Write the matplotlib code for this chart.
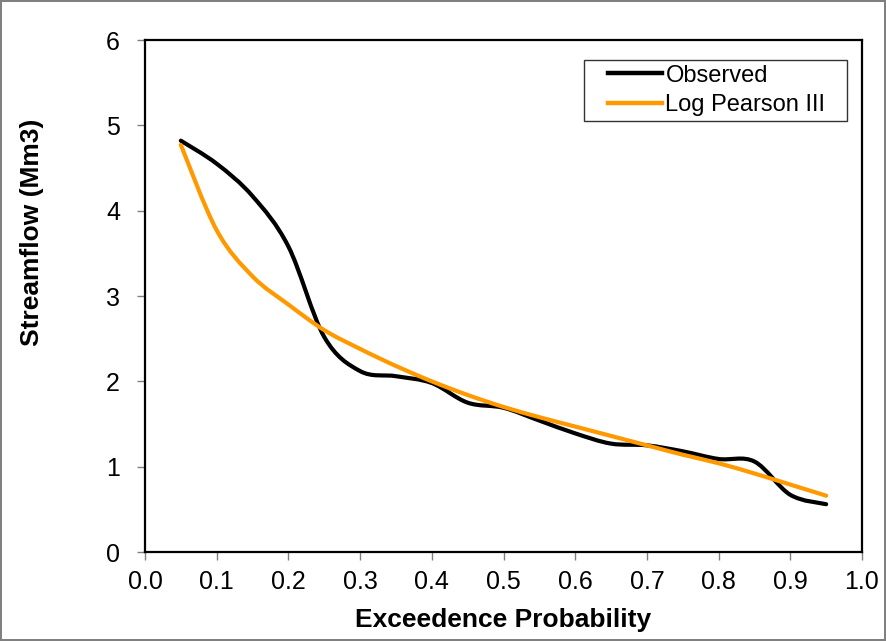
import numpy as np
import matplotlib
matplotlib.use("Agg")
import matplotlib.pyplot as plt
from matplotlib.path import Path
from matplotlib.patches import PathPatch
from matplotlib.lines import Line2D
from matplotlib.legend_handler import HandlerLine2D

plt.rcParams['font.family'] = ['Liberation Sans', 'DejaVu Sans']

# exceedence probabilities and streamflow (Mm3)
prob = [0.05, 0.10, 0.15, 0.20, 0.25, 0.30, 0.35, 0.40, 0.45, 0.50,
        0.55, 0.60, 0.65, 0.70, 0.75, 0.80, 0.85, 0.90, 0.95]
observed = [4.82, 4.55, 4.17, 3.58, 2.52, 2.12, 2.06, 1.98, 1.75, 1.69,
            1.54, 1.39, 1.27, 1.25, 1.18, 1.09, 1.06, 0.67, 0.56]
lp3 = [4.77, 3.77, 3.23, 2.90, 2.60, 2.38, 2.18, 2.00, 1.84, 1.70,
       1.58, 1.47, 1.36, 1.25, 1.14, 1.04, 0.92, 0.79, 0.66]

xticks = [0.0, 0.1, 0.2, 0.3, 0.4, 0.5, 0.6, 0.7, 0.8, 0.9, 1.0]
yticks = [0, 1, 2, 3, 4, 5, 6]


def smooth_path(x, y):
    # excel-like smoothed line: catmull-rom segments as cubic beziers
    p = np.column_stack([x, y])
    verts = [p[0]]
    codes = [Path.MOVETO]
    n = len(p)
    for i in range(n - 1):
        p0 = p[i - 1] if i > 0 else p[i]
        p3 = p[i + 2] if i + 2 < n else p[i + 1]
        c1 = p[i] + (p[i + 1] - p0) / 6.0
        c2 = p[i + 1] - (p3 - p[i]) / 6.0
        verts += [c1, c2, p[i + 1]]
        codes += [Path.CURVE4] * 3
    return Path(verts, codes)


class ShiftedLine(HandlerLine2D):
    # legend line starts a bit in from the box edge, like excel
    def get_xdata(self, legend, xdescent, ydescent, width, height, fontsize):
        x0 = -xdescent + 0.27 * width
        return [x0, -xdescent + width], [x0, -xdescent + width]


fig = plt.figure(figsize=(8.86, 6.41), dpi=100)
fig.patch.set_edgecolor('#808080')
fig.patch.set_linewidth(1.5)
ax = fig.add_axes([145 / 886, 1 - 552 / 641, (862 - 145) / 886, (552 - 40) / 641])

for vals, col in [(observed, 'black'), (lp3, '#FF9900')]:
    ax.add_patch(PathPatch(smooth_path(prob, vals), facecolor='none',
                           edgecolor=col, lw=3.0, capstyle='round'))

ax.set_xlim(0, 1)
ax.set_ylim(0, 6)
ax.set_xticks(xticks)
ax.set_xticklabels([f"{t:.1f}" for t in xticks])
ax.set_yticks(yticks)
ax.tick_params(axis='both', labelsize=18, direction='out', length=6,
               width=1, color='#808080')
ax.tick_params(axis='x', pad=7)
ax.tick_params(axis='y', pad=12)
for s in ax.spines.values():
    s.set_linewidth(1.6)
    s.set_color('black')

fig.text(355 / 886 + 297 / 2 / 886, 1 - 620 / 641, 'Exceedence Probability',
         fontsize=19, fontweight='bold', ha='center', va='center')
fig.text(32 / 886, 1 - 232 / 641, 'Streamflow (Mm3)', rotation=90,
         fontsize=19, fontweight='bold', ha='center', va='center')

handles = [Line2D([], [], color='black', lw=3.2), Line2D([], [], color='#FF9900', lw=3.2)]
leg = ax.legend(handles, ['Observed', 'Log Pearson III'], loc='upper left',
                bbox_to_anchor=(584 / 886, 1 - 119 / 641, 263 / 886, 59 / 641),
                bbox_transform=fig.transFigure, mode='expand',
                fontsize=17, frameon=True, fancybox=False, edgecolor='black',
                handlelength=3.1, handletextpad=0.15, borderpad=0.2,
                labelspacing=0.3, borderaxespad=0,
                handler_map={Line2D: ShiftedLine()})
leg.get_frame().set_linewidth(1.0)

fig.savefig('out.png', dpi=100)
